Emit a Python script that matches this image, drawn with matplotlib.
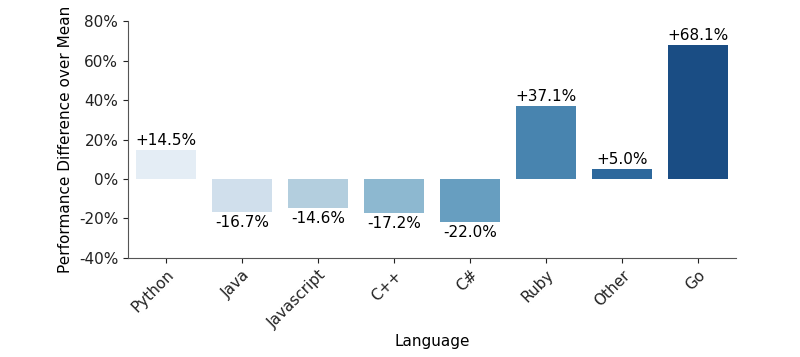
import matplotlib
matplotlib.use('Agg')
import seaborn as sns
from matplotlib import pyplot as plt
from matplotlib.ticker import FuncFormatter

# 各语言相对均值的性能差异 (%)
languages = ['Python', 'Java', 'Javascript', 'C++', 'C#', 'Ruby', 'Other', 'Go']
diff_pct = [14.5, -16.7, -14.6, -17.2, -22.0, 37.1, 5.0, 68.1]

fig, ax = plt.subplots(figsize=(8, 3.57), dpi=100)
fig.subplots_adjust(left=0.16, right=0.92, top=0.94, bottom=0.278)

sns.barplot(x=languages, y=diff_pct, hue=languages, palette='Blues',
            legend=False, ax=ax)

# 数值标签
for i, v in enumerate(diff_pct):
    if v >= 0:
        ax.annotate('+%.1f%%' % v, (i, v), xytext=(0, 1.5), textcoords='offset points',
                    ha='center', va='bottom', fontsize=11)
    else:
        ax.annotate('%.1f%%' % v, (i, v), xytext=(0, -2), textcoords='offset points',
                    ha='center', va='top', fontsize=11)

ax.set_ylim(-40, 80)
ax.set_yticks(range(-40, 81, 20))
ax.yaxis.set_major_formatter(FuncFormatter(lambda y, _: '%d%%' % y))
ax.tick_params(labelsize=11, colors='#222222')
plt.setp(ax.get_xticklabels(), rotation=45, ha='right', rotation_mode='anchor')

for s in ['top', 'right']:
    ax.spines[s].set_visible(False)
for s in ['left', 'bottom']:
    ax.spines[s].set_color('#555555')

ax.set_xlabel('Language', fontsize=11, labelpad=2)
ax.set_ylabel('Performance Difference over Mean', fontsize=11)

plt.savefig('out.png')
